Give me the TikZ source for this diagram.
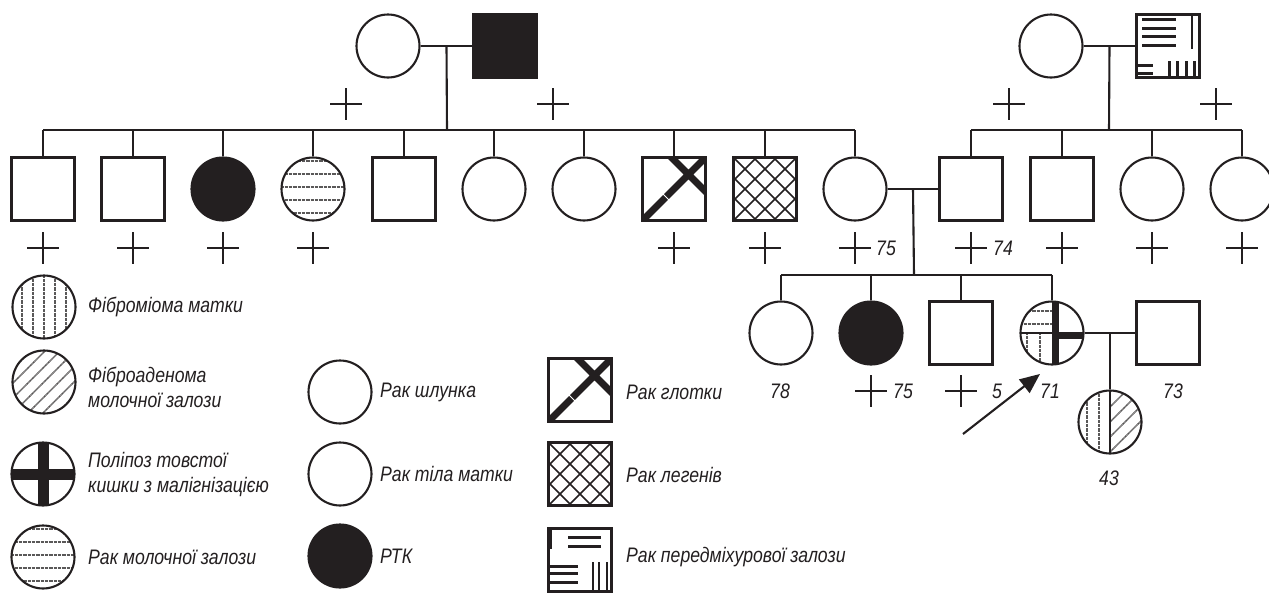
\documentclass[tikz,border=0pt]{standalone}
\usepackage{fontspec}
\setmainfont{Liberation Sans}[FakeStretch=0.84]
\usetikzlibrary{arrows.meta,calc}
\definecolor{ink}{RGB}{35,31,32}
\definecolor{dotc}{RGB}{90,88,88}
\newcommand\PHor{\foreach \d in {-28,-15,-2,11,24}{\draw[dots] (-40,\d) -- (40,\d);}}
\newcommand\PVer{\foreach \d in {-22,-11,0,11,22}{\draw[dots] (\d,-40) -- (\d,40);}}
\newcommand\PDia{\foreach \d in {-60,-45,...,60}{\draw[dots] (\d-40,40) -- (\d+40,-40);}}
\newcommand\PPol{\draw[draw=ink,line width=11pt] (0,-40) -- (0,40) (-40,0) -- (40,0);}
\newcommand\PX{\draw[draw=ink,line width=7pt] (-34,34) -- (34,-34) (-5,-34) -- (34,5);
  \draw[white,line width=0.9pt] (-12,4) -- (-4,12);}
\newcommand\PHatch{\foreach \d in {-80,-60,...,80}{\draw[draw=ink,line width=1.6pt] (\d-40,40) -- (\d+40,-40) (\d-40,-40) -- (\d+40,40);}}
\newcommand\PPro{\foreach \y in {-27,-18,-10,-1}{\draw[draw=ink,line width=3pt] (-26,\y) -- (8,\y);}
  \draw[draw=ink,line width=2pt] (24,-33) -- (24,3);
  \foreach \y in {19,27}{\draw[draw=ink,line width=3pt] (-33,\y) -- (-15,\y);}
  \foreach \x in {1,9,18,26}{\draw[draw=ink,line width=3pt] (\x,15) -- (\x,33);}}
\newcommand\PProL{\draw[draw=ink,line width=2pt] (-29,-33) -- (-29,-11);
  \foreach \y in {-23,-14}{\draw[draw=ink,line width=3pt] (-12,\y) -- (21,\y);}
  \foreach \y in {6,13,22}{\draw[draw=ink,line width=3pt] (-33,\y) -- (-2,\y);}
  \foreach \x in {13,19,27}{\draw[draw=ink,line width=2.5pt] (\x,2) -- (\x,33);}}
\newcommand\PProb{\foreach \y in {-22,-9}{\draw[dots] (-40,\y) -- (0,\y);}
  \foreach \x in {-25,-12}{\draw[dots] (\x,0) -- (\x,40);}
  \draw[draw=ink,line width=1.5pt] (-40,0) -- (0,0);
  \draw[draw=ink,line width=7pt] (3,-40) -- (3,40) (3,2) -- (40,2);}
\newcommand\PHalf{\foreach \x in {-23,-11}{\draw[dots] (\x,-40) -- (\x,40);}
  \begin{scope}\clip (0,-40) rectangle (40,40); \PDia\end{scope}
  \draw[draw=ink,line width=2pt] (0,-40) -- (0,40);}
\tikzset{
  ln/.style={draw=ink, line width=2.1pt},
  base/.style={draw=ink, line width=2.1pt, inner sep=0pt, minimum size=63pt, fill=white},
  fem/.style={base, circle},
  mal/.style={base, rectangle},
  aff/.style={fill=ink},
  dots/.style={draw=dotc, line width=1.6pt, dash pattern=on 0.8pt off 0.5pt},
  pp/.style={path picture={\begin{scope}[shift={(path picture bounding box.center)}]#1\end{scope}}},
  dec/.style={inner sep=0pt, minimum size=32pt, path picture={
    \draw[ln] (path picture bounding box.north) -- (path picture bounding box.south)
              (path picture bounding box.west) -- (path picture bounding box.east);}},
  lab/.style={inner sep=0pt, text=ink, font=\itshape\fontsize{21}{25}\selectfont},
  legt/.style={lab, anchor=west, align=left},
}
\begin{document}
\begin{tikzpicture}[x=1pt,y=-1pt]
\useasboundingbox (0,0) rectangle (1269,592);
% ---------- generation I
\node[fem] (gf1) at (388,46) {};
\node[mal,aff] (gm1) at (505,46) {};
\node[fem] (gf2) at (1051,46) {};
\node[mal,pp=\PPro] (gm2) at (1168,46) {};
\node[dec] (x1) at (346,104) {};
\node[dec] (x2) at (553,104) {};
\node[dec] (x3) at (1009,104) {};
\node[dec] (x4) at (1216,104) {};
\draw[ln] (gf1) -- (gm1);
\draw[ln] (gf2) -- (gm2);
\coordinate (m1) at ($(gf1.east)!0.5!(gm1.west)$);
\coordinate (m2) at ($(gf2.east)!0.5!(gm2.west)$);
\coordinate (b1) at (447,130);
\coordinate (b2) at (1109,130);
\draw[ln] (m1) -- (b1);
\draw[ln] (m2) -- (b2);
% ---------- generation II
\node[mal] (c1) at (43,189) {};
\node[mal] (c2) at (133,189) {};
\node[fem,aff] (c3) at (223,189) {};
\node[fem,pp=\PHor] (c4) at (313,189) {};
\node[mal] (c5) at (404,189) {};
\node[fem] (c6) at (494,189) {};
\node[fem] (c7) at (584,189) {};
\node[mal,pp=\PX] (c8) at (674,189) {};
\node[mal,pp=\PHatch] (c9) at (765,189) {};
\node[fem] (c10) at (855,189) {};
\node[mal] (s1) at (971,189) {};
\node[mal] (s2) at (1062,189) {};
\node[fem] (s3) at (1152,189) {};
\node[fem] (s4) at (1242,189) {};
\draw[ln] (c1.north |- b1) -- (c10.north |- b1);
\foreach \n in {c1,c2,c3,c4,c5,c6,c7,c8,c9,c10}{\draw[ln] (\n.north) -- (\n.north |- b1);}
\draw[ln] (s1.north |- b2) -- (s4.north |- b2);
\foreach \n in {s1,s2,s3,s4}{\draw[ln] (\n.north) -- (\n.north |- b2);}
\foreach \n/\x in {d1/43,d2/133,d3/223,d4/313,d8/674,d9/765,d10/855,ds1/971,ds2/1062,ds3/1152,ds4/1242}{\node[dec] (\n) at (\x,248) {};}
\node[lab,anchor=west] (a10) at (876,248) {75};
\node[lab,anchor=west] (as1) at (993,248) {74};
\draw[ln] (c10) -- (s1);
\coordinate (m3) at ($(c10.east)!0.5!(s1.west)$);
\coordinate (b3) at (914,275);
\draw[ln] (m3) -- (b3);
% ---------- generation III
\node[fem] (t1) at (781,333) {};
\node[fem,aff] (t2) at (871,333) {};
\node[mal] (t3) at (961,333) {};
\node[fem,pp=\PProb] (t4) at (1052,333) {};
\node[mal] (t5) at (1168,333) {};
\draw[ln] (t1.north |- b3) -- (t4.north |- b3);
\foreach \n in {t1,t2,t3,t4}{\draw[ln] (\n.north) -- (\n.north |- b3);}
\draw[ln] (t4) -- (t5);
\coordinate (m4) at ($(t4.east)!0.5!(t5.west)$);
\node[fem,pp=\PHalf] (u1) at (m4 |- 0,422) {};
\draw[ln] (m4) -- (u1);
\node[lab] (at1) at (780,391) {78};
\node[dec] (dt2) at (871,391) {};
\node[lab,anchor=west] (at2) at (893,391) {75};
\node[dec] (dt3) at (961,391) {};
\node[lab,anchor=west] (at3) at (992,391) {5};
\node[lab] (at4) at (1050,391) {71};
\node[lab] (at5) at (1173,391) {73};
\node[lab] (au1) at (1109,478) {43};
\coordinate (arT) at (963,434);
\coordinate (arH) at (1040,374);
\draw[ln,-{Triangle[length=20pt,width=17pt]}] (arT) -- (arH);
% ---------- legend
\node[fem,pp=\PVer] (L1) at (44,307) {};
\node[legt] (l1) at (88,307) {Фіброміома матки};
\node[fem,pp=\PDia] (L2) at (44,382) {};
\node[legt] (l2) at (88,387) {Фіброаденома\\молочної залози};
\node[fem,pp=\PPol] (L3) at (43,474) {};
\node[legt] (l3) at (88,474) {Поліпоз товстої\\кишки з малігнізацією};
\node[fem,pp=\PHor] (L4) at (43,557) {};
\node[legt] (l4) at (88,557) {Рак молочної залози};
\node[fem] (M1) at (340,392) {};
\node[legt] (m1t) at (380,392) {Рак шлунка};
\node[fem] (M2) at (340,474) {};
\node[legt] (m2t) at (380,474) {Рак тіла матки};
\node[fem,aff] (M3) at (340,556) {};
\node[legt] (m3t) at (380,556) {РТК};
\node[mal,pp=\PX] (R1) at (580,390) {};
\node[legt] (r1t) at (626,392) {Рак глотки};
\node[mal,pp=\PHatch] (R2) at (580,474) {};
\node[legt] (r2t) at (626,475) {Рак легенів};
\node[mal,pp=\PProL] (R3) at (580,560) {};
\node[legt] (r3t) at (626,557) {Рак передміхурової залози};
\end{tikzpicture}
\end{document}
